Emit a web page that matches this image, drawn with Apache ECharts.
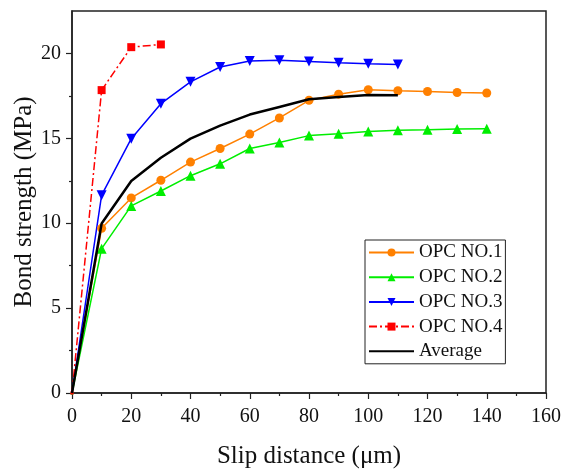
<!DOCTYPE html>
<html>
<head>
<meta charset="utf-8">
<script src="https://cdn.jsdelivr.net/npm/echarts@6/dist/echarts.min.js"></script>
<style>html,body{margin:0;padding:0;background:#fff}#c{width:566px;height:474px}</style>
</head>
<body>
<div id="c"></div>
<script>
const xNo1 = [0,10,20,30,40,50,60,70,80,90,100,110,120,130,140];
const yNo1 = [0,9.7,11.49,12.53,13.6,14.4,15.25,16.2,17.24,17.6,17.86,17.8,17.76,17.7,17.67];
const xNo2 = [0,10,20,30,40,50,60,70,80,90,100,110,120,130,140];
const yNo2 = [0,8.5,11.02,11.9,12.8,13.5,14.4,14.76,15.16,15.27,15.4,15.47,15.5,15.55,15.57];
const xNo3 = [0,10,20,30,40,50,60,70,80,90,100,110];
const yNo3 = [0,11.65,14.98,17.04,18.33,19.2,19.55,19.6,19.53,19.45,19.39,19.35];
const xNo4 = [0,10,20,30];
const yNo4 = [0,17.84,20.37,20.53];
const xAvg = [0,10,20,30,40,50,60,70,80,90,100,110];
const yAvg = [0,9.98,12.49,13.86,14.98,15.75,16.4,16.85,17.3,17.44,17.55,17.54];
const seriesNames = ['OPC NO.1','OPC NO.2','OPC NO.3','OPC NO.4','Average'];
const yMajorTicks = [0,5,10,15,20];
const yMinorTicks = [2.5,7.5,12.5,17.5];

const FONT = 'Liberation Serif';
const pairs = (xs, ys) => xs.map((x, i) => [x, ys[i]]);
const sizeFn = s => (v => v[0] === 0 ? 3 : s);

const chart = echarts.init(document.getElementById('c'), null, {renderer: 'canvas'});
chart.setOption({
  animation: false,
  backgroundColor: '#fff',
  grid: {left: 72, right: 20, top: 11, bottom: 81, containLabel: false, outerBoundsMode: 'none',
         show: true, borderColor: '#222', borderWidth: 1.5, backgroundColor: 'transparent'},
  legend: {
    data: seriesNames.map((n, i) => i === 4 ? {name: n, itemStyle: {opacity: 0}} : n),
    orient: 'vertical',
    left: 365, top: 240,
    padding: [3, 3, 3, 3],
    itemWidth: 45, itemHeight: 10, itemGap: 5.7,
    borderColor: '#222', borderWidth: 1, backgroundColor: '#fff',
    textStyle: {fontFamily: FONT, fontSize: 19, color: '#111', lineHeight: 19},
    itemStyle: {borderWidth: 0}
  },
  xAxis: {
    type: 'value', min: 0, max: 160, interval: 20,
    name: 'Slip distance (\u03bcm)', nameLocation: 'middle', nameGap: 51, nameMoveOverlap: false,
    nameTextStyle: {fontFamily: FONT, fontSize: 25, color: '#111'},
    axisLine: {show: true, onZero: false, lineStyle: {color: '#222', width: 1.5}},
    axisTick: {show: true, length: 6, lineStyle: {color: '#222', width: 1.2}},
    minorTick: {show: true, splitNumber: 2, length: 3, lineStyle: {color: '#222', width: 1.2}},
    axisLabel: {fontFamily: FONT, fontSize: 20, color: '#111', margin: 14},
    splitLine: {show: false}
  },
  yAxis: [{
    type: 'value', min: 0, max: 22.5,
    name: 'Bond strength (MPa)', nameLocation: 'middle', nameGap: 35, nameMoveOverlap: false,
    nameTextStyle: {fontFamily: FONT, fontSize: 25, color: '#111'},
    axisLine: {show: true, onZero: false, lineStyle: {color: '#222', width: 1.5}},
    axisTick: {show: true, length: 6, customValues: yMajorTicks, lineStyle: {color: '#222', width: 1.2}},
    axisLabel: {fontFamily: FONT, fontSize: 20, color: '#111', margin: 11, customValues: yMajorTicks},
    splitLine: {show: false}
  }, {
    type: 'value', min: 0, max: 22.5, position: 'left',
    axisLine: {show: false},
    axisTick: {show: true, length: 3, customValues: yMinorTicks, lineStyle: {color: '#222', width: 1.2}},
    axisLabel: {show: false},
    splitLine: {show: false}
  }],
  series: [
    {name: seriesNames[0], type: 'line', data: pairs(xNo1, yNo1), symbol: 'circle', symbolSize: sizeFn(9),
     itemStyle: {color: '#FF8000'}, lineStyle: {color: '#FF8000', width: 1.5}, z: 3},
    {name: seriesNames[1], type: 'line', data: pairs(xNo2, yNo2), symbol: 'triangle', symbolSize: sizeFn(10),
     itemStyle: {color: '#00EE00'}, lineStyle: {color: '#00EE00', width: 1.5}, z: 3},
    {name: seriesNames[2], type: 'line', data: pairs(xNo3, yNo3), symbol: 'triangle', symbolRotate: 180, symbolSize: sizeFn(10),
     itemStyle: {color: '#0000FF'}, lineStyle: {color: '#0000FF', width: 1.5}, z: 3},
    {name: seriesNames[3], type: 'line', data: pairs(xNo4, yNo4), symbol: 'rect', symbolSize: sizeFn(8),
     itemStyle: {color: '#FF0000'}, lineStyle: {color: '#FF0000', width: 1.5, type: [8, 3, 2, 3]}, z: 3},
    {name: seriesNames[4], type: 'line', data: pairs(xAvg, yAvg), symbol: 'none',
     itemStyle: {color: '#000'}, lineStyle: {color: '#000', width: 2.5}, z: 4}
  ]
});
</script>
</body>
</html>
